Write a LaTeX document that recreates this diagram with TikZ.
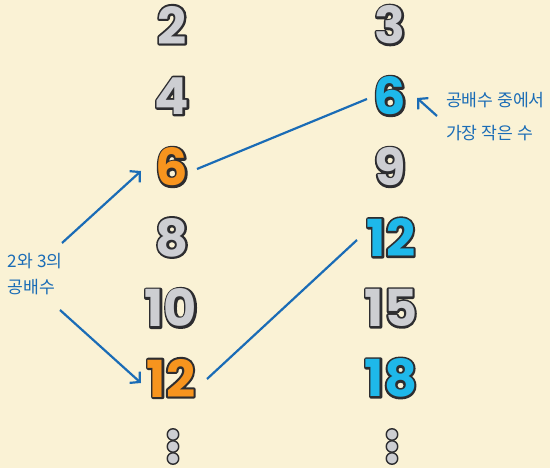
\documentclass[tikz,border=0pt]{standalone}
\usepackage{fontspec}
\usetikzlibrary{arrows.meta,calc}
\newfontfamily\numfont{Poppins}
\newfontfamily\krfont{Noto Sans CJK KR}
\definecolor{bg}{RGB}{250,242,213}
\definecolor{numline}{RGB}{45,45,48}
\definecolor{numgray}{RGB}{205,206,210}
\definecolor{numorange}{RGB}{247,148,30}
\definecolor{numcyan}{RGB}{30,184,234}
\definecolor{lineblue}{RGB}{26,108,182}
\newcommand\outlinednum[2]{%
  \makebox[0pt][l]{\color{numline}\special{pdf:code 1 Tr 4.2 w 1 j 1 J}#2\special{pdf:code 0 Tr 0.4 w}}%
  \textcolor{#1}{#2}}
\tikzset{
  num/.style={inner sep=0pt, outer sep=0pt, font=\numfont\bfseries\fontsize{51}{51}\selectfont},
  lbl/.style={inner sep=0pt, outer sep=0pt, anchor=west, text=lineblue, font=\krfont\fontsize{17.2}{17.2}\selectfont},
  dotc/.style={circle, draw=numline, fill=numgray, line width=1.4pt, minimum size=11.5pt, inner sep=0pt},
  conn/.style={draw=lineblue, line width=2.2pt},
  arr/.style={conn, -{Straight Barb[length=7pt,width=15pt]}},
}
\begin{document}
\begin{tikzpicture}[x=1pt,y=-1pt]
\fill[bg] (0,0) rectangle (550,468);
\useasboundingbox (0,0) rectangle (550,468);
% left column
\node[num] (l2) at (172,25) {\outlinednum{numgray}{2}};
\node[num] (l4) at (172,96) {\outlinednum{numgray}{4}};
\node[num] (l6) at (172,167) {\outlinednum{numorange}{6}};
\node[num] (l8) at (172,237.5) {\outlinednum{numgray}{8}};
\node[num] (l10) at (171,308) {\outlinednum{numgray}{10}};
\node[num] (l12) at (171,378) {\outlinednum{numorange}{12}};
% right column
\node[num] (r3) at (390,25) {\outlinednum{numgray}{3}};
\node[num] (r6) at (390,96) {\outlinednum{numcyan}{6}};
\node[num] (r9) at (390,167) {\outlinednum{numgray}{9}};
\node[num] (r12) at (391,237.5) {\outlinednum{numcyan}{12}};
\node[num] (r15) at (391,308) {\outlinednum{numgray}{15}};
\node[num] (r18) at (391,378) {\outlinednum{numcyan}{18}};
% dots
\node[dotc] (ld1) at (173,434.5) {};
\node[dotc] (ld2) at (173,446.5) {};
\node[dotc] (ld3) at (173,458.5) {};
\node[dotc] (rd1) at (392,434.5) {};
\node[dotc] (rd2) at (392,446.5) {};
\node[dotc] (rd3) at (392,458.5) {};
% labels
\node[lbl] (la1) at (8,261.5) {2와 3의};
\node[lbl] (la2) at (8,287.5) {공배수};
\node[lbl] (lb1) at (446,100) {공배수 중에서};
\node[lbl] (lb2) at (446,133) {가장 작은 수};
% connectors
\draw[conn] ($(l6.center)+(25,2)$) -- ($(r6.center)+(-23,3)$);
\draw[conn] ($(l12.center)+(36,1)$) -- ($(r12.center)+(-34,2.5)$);
\coordinate (s1) at (62,243);
\coordinate (s2) at (60,310);
\coordinate (s3) at (437,116);
\draw[arr] (s1) -- ($(l6.center)+(-31,4)$);
\draw[arr] (s2) -- ($(l12.center)+(-30,5)$);
\draw[arr] (s3) -- ($(r6.center)+(27,2)$);
\end{tikzpicture}
\end{document}
